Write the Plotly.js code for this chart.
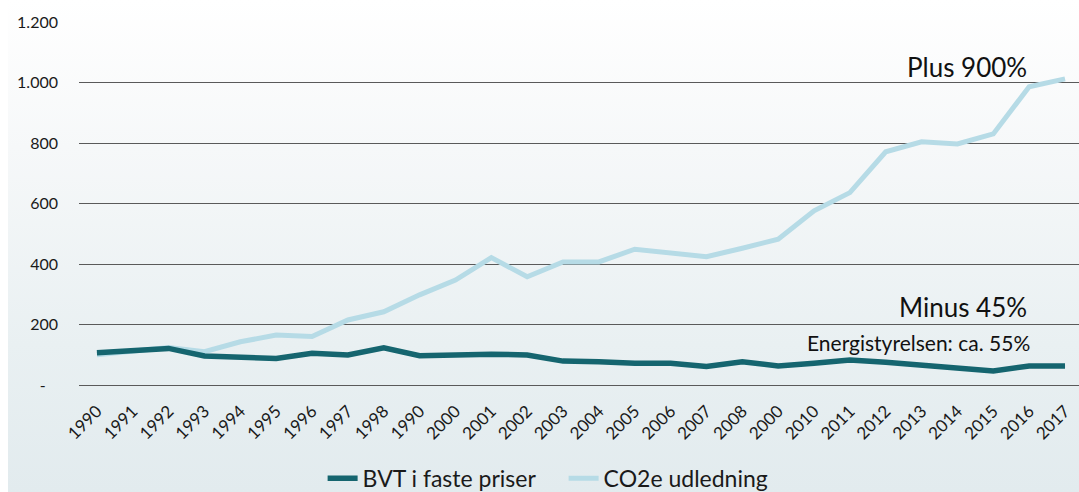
<!DOCTYPE html>
<html>
<head>
<meta charset="utf-8">
<script src="https://cdn.plot.ly/plotly-3.0.1.min.js"></script>
<style>
  html, body { margin: 0; padding: 0; background: #ffffff; }
  #wrap { position: relative; width: 1079px; height: 492px; }
  #bg { position: absolute; left: 8px; top: 0; width: 1071px; height: 492px;
        background: linear-gradient(to bottom, #ffffff 0%, #f6f8f9 30%, #e9f0f2 70%, #e2ebee 100%); }
  #chart { position: absolute; left: 0; top: 0; width: 1079px; height: 492px; }
</style>
</head>
<body>
<div id="wrap"><div id="bg"></div><div id="chart"></div></div>
<script>
const tickLabels = ['1990','1991','1992','1993','1994','1995','1996','1997','1998','1990',
  '2000','2001','2002','2003','2004','2005','2006','2007','2008','2000',
  '2010','2011','2012','2013','2014','2015','2016','2017'];
const bvt = [107,116,121,96,92,88,105,99,123,97,99,102,99,79,77,72,72,61,77,63,72,83,75,64,53,46,63,63];
const co2 = [100,110,124,110,143,165,160,215,242,298,347,421,358,407,407,449,435,424,452,482,576,636,771,804,797,830,986,1012];
const yTickVals = [0,200,400,600,800,1000,1200];
const yTickText = ['-\u00a0\u00a0\u00a0','200','400','600','800','1.000','1.200'];

const idx = tickLabels.map((_, i) => i);
const font = 'Lato, "Open Sans", sans-serif';

const traces = [
  { x: idx, y: co2, name: 'CO2e udledning', type: 'scatter', mode: 'lines',
    line: { color: '#b6dbe6', width: 5 }, legendrank: 2 },
  { x: idx, y: bvt, name: 'BVT i faste priser', type: 'scatter', mode: 'lines',
    line: { color: '#15656f', width: 5.5 }, legendrank: 1 }
];

const layout = {
  width: 1079, height: 492,
  margin: { l: 79, r: 0, t: 22, b: 107 },
  paper_bgcolor: 'rgba(0,0,0,0)',
  plot_bgcolor: 'rgba(0,0,0,0)',
  font: { family: font, color: '#1a1a1a' },
  showlegend: true,
  legend: { orientation: 'h', xref: 'container', yref: 'container',
            x: 0.299, xanchor: 'left', y: 0.028, yanchor: 'middle',
            font: { size: 23, family: font, color: '#1a1a1a' }, traceorder: 'normal',
            bgcolor: 'rgba(0,0,0,0)', itemwidth: 30,
            entrywidth: 196, entrywidthmode: 'pixels' },
  xaxis: {
    range: [-0.5, 27.39], tickmode: 'array', tickvals: idx, ticktext: tickLabels,
    tickangle: -45, tickfont: { size: 17, family: font, color: '#1a1a1a' },
    showgrid: false, zeroline: false, showline: false, ticks: '', fixedrange: true,
    automargin: false, ticklabelstandoff: 12
  },
  yaxis: {
    range: [0, 1200], tickmode: 'array', tickvals: yTickVals, ticktext: yTickText,
    tickfont: { size: 16, family: font, color: '#1a1a1a' },
    showgrid: true, gridcolor: '#5a5a5a', gridwidth: 1,
    zeroline: true, zerolinecolor: '#5a5a5a', zerolinewidth: 1,
    showline: false, ticks: '', ticklabelstandoff: 20, fixedrange: true, automargin: false
  },
  annotations: [
    { x: 26, y: 1051, xref: 'x', yref: 'y', xanchor: 'right', yanchor: 'middle',
      text: 'Plus 900%', showarrow: false, font: { size: 26, family: font, color: '#111' } },
    { x: 26, y: 258, xref: 'x', yref: 'y', xanchor: 'right', yanchor: 'middle',
      text: 'Minus 45%', showarrow: false, font: { size: 26, family: font, color: '#111' } },
    { x: 26.07, y: 139, xref: 'x', yref: 'y', xanchor: 'right', yanchor: 'middle',
      text: 'Energistyrelsen: ca. 55%', showarrow: false, font: { size: 21, family: font, color: '#111' } }
  ]
};

Plotly.newPlot('chart', traces, layout, { displayModeBar: false, staticPlot: true });
</script>
</body>
</html>
